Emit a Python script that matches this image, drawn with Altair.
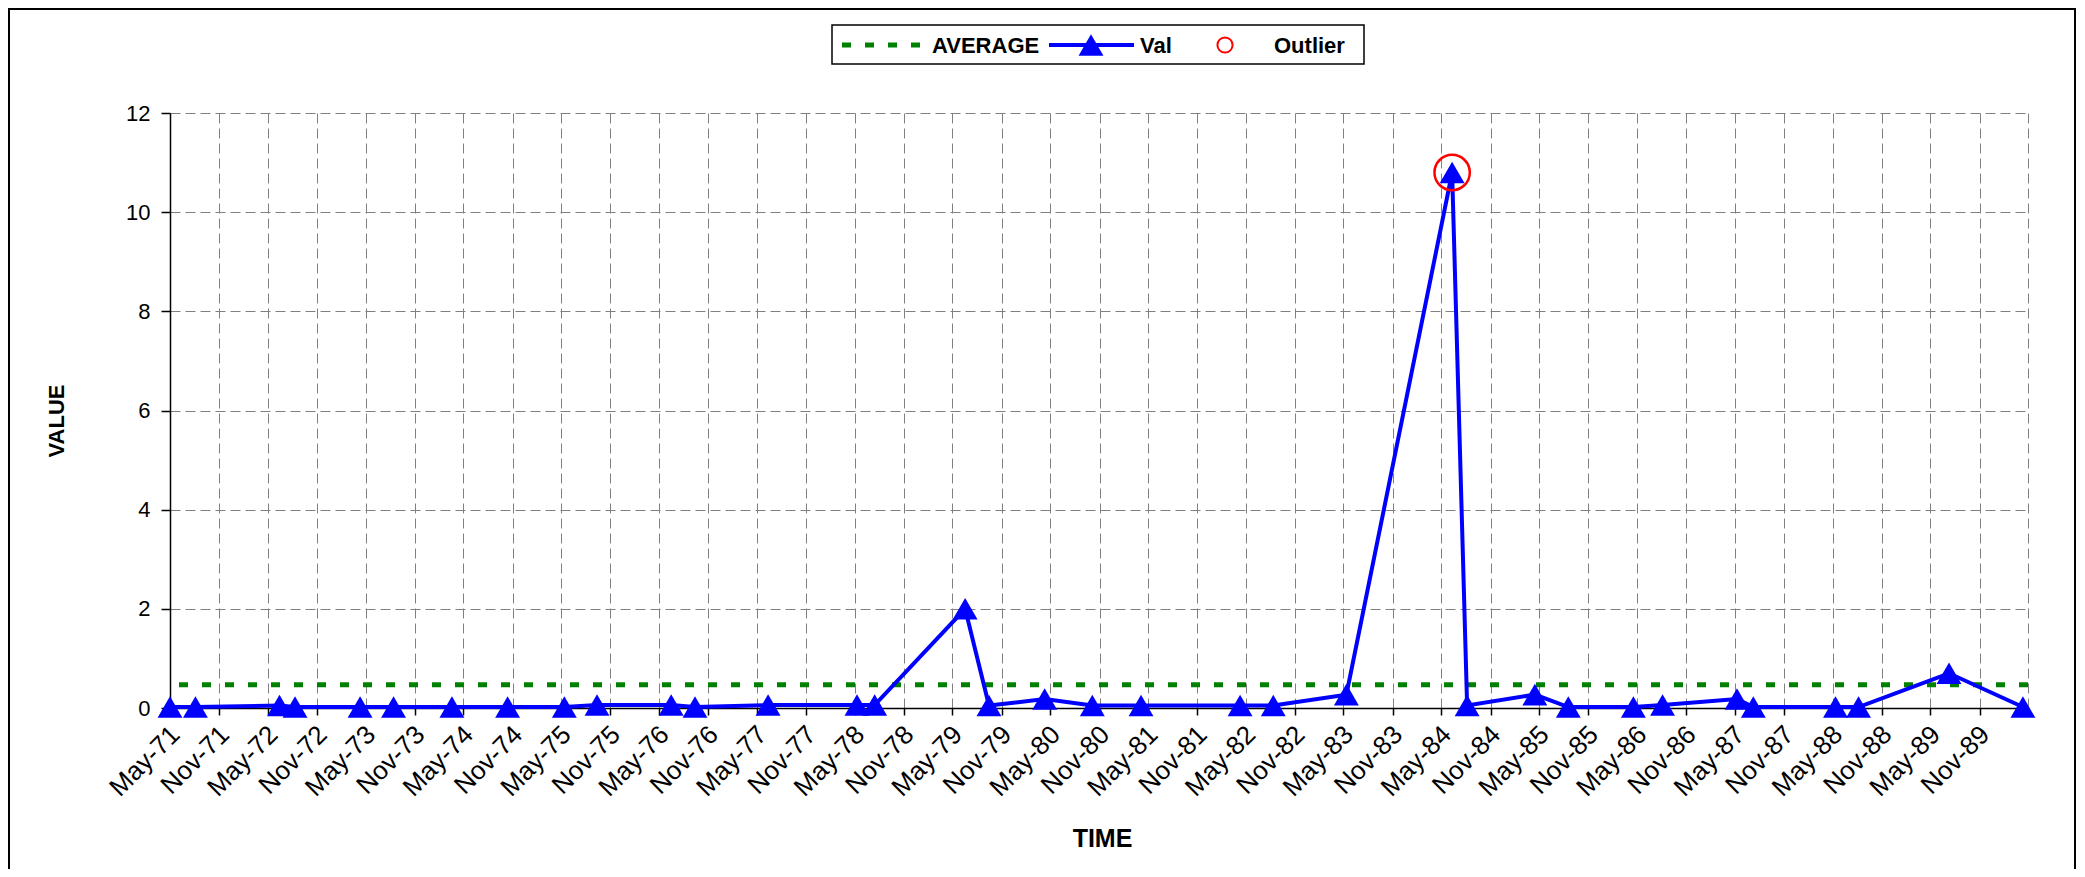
import altair as alt
import pandas as pd

# ---------------- data ----------------
DATES = [
    "1971-05-01", "1971-08-04", "1972-06-13", "1972-08-10", "1973-04-10",
    "1973-08-13", "1974-03-19", "1974-10-13", "1975-05-13", "1975-09-12",
    "1976-06-15", "1976-09-12", "1977-06-12", "1978-05-10", "1978-07-15",
    "1979-06-18", "1979-09-15", "1980-04-10", "1980-10-05", "1981-04-05",
    "1982-04-10", "1982-08-12", "1983-05-12", "1984-06-10", "1984-08-05",
    "1985-04-15", "1985-08-18", "1986-04-18", "1986-08-05", "1987-05-10",
    "1987-07-10", "1988-05-12", "1988-08-06", "1989-07-10", "1990-04-12",
]
VALUES = [
    0.02, 0.02, 0.05, 0.02, 0.02,
    0.02, 0.02, 0.02, 0.02, 0.06,
    0.06, 0.02, 0.06, 0.06, 0.06,
    2.00, 0.05, 0.18, 0.05, 0.05,
    0.05, 0.05, 0.27, 10.80, 0.05,
    0.27, 0.02, 0.02, 0.06, 0.18,
    0.02, 0.02, 0.02, 0.70, 0.02,
]
AVERAGE = 0.47
OUTLIER_DATES = ["1984-06-10"]
OUTLIER_VALUES = [10.80]

TICK_DATES = [
    "1971-05-01", "1971-11-01", "1972-05-01", "1972-11-01", "1973-05-01",
    "1973-11-01", "1974-05-01", "1974-11-01", "1975-05-01", "1975-11-01",
    "1976-05-01", "1976-11-01", "1977-05-01", "1977-11-01", "1978-05-01",
    "1978-11-01", "1979-05-01", "1979-11-01", "1980-05-01", "1980-11-01",
    "1981-05-01", "1981-11-01", "1982-05-01", "1982-11-01", "1983-05-01",
    "1983-11-01", "1984-05-01", "1984-11-01", "1985-05-01", "1985-11-01",
    "1986-05-01", "1986-11-01", "1987-05-01", "1987-11-01", "1988-05-01",
    "1988-11-01", "1989-05-01", "1989-11-01", "1990-05-01",
]
X_DOMAIN = ["1971-05-01", "1990-05-01"]
Y_TICKS = [0, 2, 4, 6, 8, 10, 12]
Y_DOMAIN = [0, 12]
LEGEND_LABELS = ["AVERAGE", "Val", "Outlier"]

FONT = "Liberation Sans"
BLUE = "#0000FF"
GREEN = "#008000"
RED = "#FF0000"

def ms(d):
    return int(pd.Timestamp(d, tz="UTC").value // 10**6)

tick_ms = [ms(d) for d in TICK_DATES]
last_tick = tick_ms[-1]
domain_ms = [ms(d) for d in X_DOMAIN]

df = pd.DataFrame({"date": DATES, "value": VALUES})
df_out = pd.DataFrame({"date": OUTLIER_DATES, "value": OUTLIER_VALUES})
df_avg = pd.DataFrame({"avg": [AVERAGE]})

W, H = 1858, 595

x_enc = alt.X(
    "date:T",
    scale=alt.Scale(type="utc", domain=domain_ms),
    axis=alt.Axis(
        values=tick_ms,
        labelExpr=f"datum.value >= {last_tick} ? '' : utcFormat(datum.value, '%b-%y')",
        labelAngle=-45,
        labelAlign="right",
        labelBaseline="top",
        labelPadding=6,
        labelOffset=-4,
        labelOverlap=False,
        labelFlush=False,
        labelBound=False,
        labelFontSize=26,
        tickSize=7,
        title="TIME",
        titleFontSize=25,
        titleX=W / 2 + 3,
        titleY=130,
        titleBaseline="middle",
        titleAlign="center",
    ),
)
y_enc = alt.Y(
    "value:Q",
    scale=alt.Scale(domain=Y_DOMAIN, nice=False),
    axis=alt.Axis(
        values=Y_TICKS,
        tickSize=9,
        labelPadding=11,
        labelFontSize=22,
        labelFlush=False,
        title="VALUE",
        titleFontSize=22,
        titleX=-114,
        titleY=H / 2 + 10,
        titleAngle=-90,
        titleBaseline="middle",
        titleAlign="center",
    ),
)

avg_layer = alt.Chart(df_avg).mark_rule(
    color=GREEN, strokeWidth=5, strokeDash=[9, 14]
).encode(y=alt.Y("avg:Q", scale=alt.Scale(domain=Y_DOMAIN, nice=False)))

line_layer = alt.Chart(df).mark_line(color=BLUE, strokeWidth=4).encode(x=x_enc, y=y_enc)
pts_layer = alt.Chart(df).mark_point(
    shape="triangle-up", filled=True, size=620, color=BLUE, opacity=1
).encode(x="date:T", y="value:Q")
out_layer = alt.Chart(df_out).mark_point(
    shape="circle", filled=False, size=1250, color=RED, strokeWidth=2.5, opacity=1
).encode(x="date:T", y="value:Q")

# ---------------- legend (drawn manually, Excel style) ----------------
one = alt.Data(values=[{}])
LY = -68
leg_box = alt.Chart(one).mark_rect(fill="white", stroke="black", strokeWidth=1.5).encode(
    x=alt.value(662), x2=alt.value(1194), y=alt.value(-88), y2=alt.value(-49)
)
leg_avg = alt.Chart(one).mark_rule(color=GREEN, strokeWidth=5, strokeDash=[9, 14]).encode(
    x=alt.value(672), x2=alt.value(754), y=alt.value(LY)
)
leg_val_line = alt.Chart(one).mark_rule(color=BLUE, strokeWidth=4).encode(
    x=alt.value(879), x2=alt.value(964), y=alt.value(LY)
)
leg_val_pt = alt.Chart(one).mark_point(
    shape="triangle-up", filled=True, size=620, color=BLUE, opacity=1
).encode(x=alt.value(921), y=alt.value(LY))
leg_out_pt = alt.Chart(one).mark_point(
    shape="circle", filled=False, size=230, color=RED, strokeWidth=2, opacity=1
).encode(x=alt.value(1055), y=alt.value(LY))

def leg_text(label, x):
    return alt.Chart(one).mark_text(
        align="left", baseline="middle", font=FONT, fontSize=22, fontWeight="bold", color="black"
    ).encode(x=alt.value(x), y=alt.value(LY + 1), text=alt.value(label))

leg_t1 = leg_text(LEGEND_LABELS[0], 762)
leg_t2 = leg_text(LEGEND_LABELS[1], 970)
leg_t3 = leg_text(LEGEND_LABELS[2], 1104)

frame = alt.Chart(one).mark_rect(fillOpacity=0, stroke="black", strokeWidth=2).encode(
    x=alt.value(-161), x2=alt.value(1905), y=alt.value(-104), y2=alt.value(800)
)

chart = alt.layer(
    frame, avg_layer, line_layer, pts_layer, out_layer,
    leg_box, leg_avg, leg_val_line, leg_val_pt, leg_out_pt, leg_t1, leg_t2, leg_t3,
).properties(
    width=W,
    height=H,
    autosize=alt.AutoSizeParams(type="none"),
    padding={"left": 162, "top": 105, "right": 2069 - 162 - W, "bottom": 861 - 105 - H},
    background="white",
).configure_view(
    stroke=None
).configure_axis(
    labelFont=FONT,
    labelColor="black",
    titleFont=FONT,
    titleFontWeight="bold",
    titleColor="black",
    domainColor="black",
    domainWidth=1.5,
    tickColor="black",
    tickWidth=1.5,
    gridColor="#808080",
    gridDash=[10, 5],
    gridWidth=1,
)

chart.save("out.html", embed_options={"renderer": "svg", "actions": False})
